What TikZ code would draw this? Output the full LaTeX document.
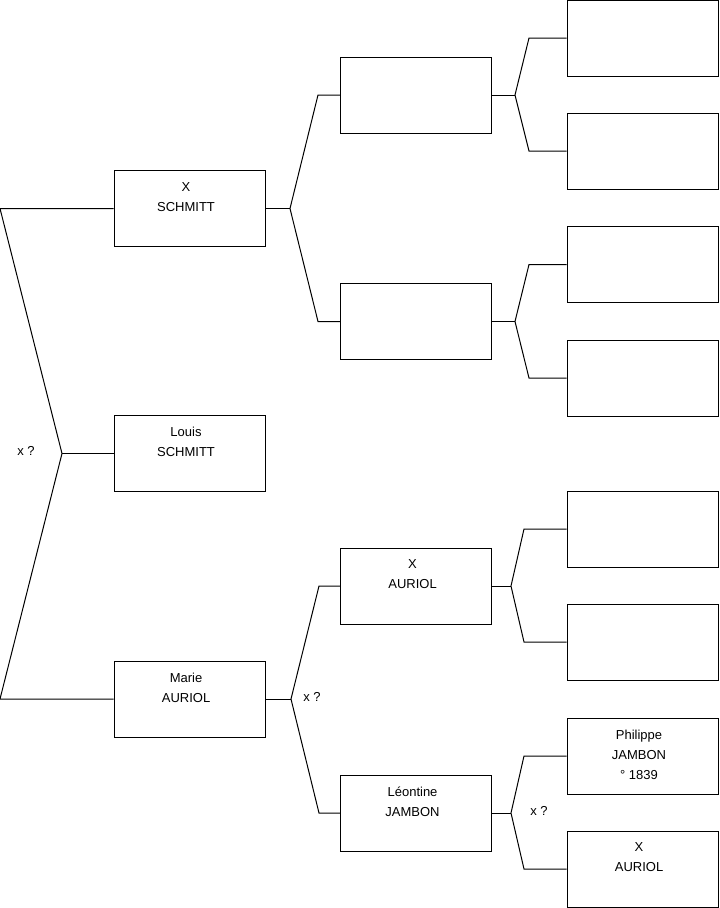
\documentclass[tikz,border=0pt]{standalone}
\usepackage{fontspec}
\setmainfont{Liberation Sans}
\begin{document}
\begin{tikzpicture}[x=0.75pt,y=-0.75pt,
    box/.style={draw, line width=0.75pt, minimum width=113.25pt, minimum height=57pt, inner sep=0pt},
    who/.style={anchor=north, xshift=-2.6pt, yshift=-9.2pt, align=center, inner sep=0pt, font=\fontsize{9.75}{15}\selectfont},
    link/.style={line width=0.75pt},
    guess/.style={inner sep=0pt, font=\fontsize{9.75}{11}\selectfont}]
      \useasboundingbox (0,0) rectangle (719,908);
      % generation 1
      \node[box, label={[who]north:{X\\SCHMITT}}] (xs) at (189.5,208.5) {};
      \node[box, label={[who]north:{Louis\\SCHMITT}}] (ls) at (189.5,453.5) {};
      \node[box, label={[who]north:{Marie\\AURIOL}}] (ma) at (189.5,699) {};
      % generation 2
      \node[box] (p1) at (416,95) {};
      \node[box] (p2) at (416,321.5) {};
      \node[box, label={[who]north:{X\\AURIOL}}] (p3) at (416,586) {};
      \node[box, label={[who]north:{Léontine\\JAMBON}}] (p4) at (416,813) {};
      % generation 3
      \node[box] (r1) at (642.5,38) {};
      \node[box] (r2) at (642.5,151) {};
      \node[box] (r3) at (642.5,264.5) {};
      \node[box] (r4) at (642.5,378) {};
      \node[box] (r5) at (642.5,529) {};
      \node[box] (r6) at (642.5,642) {};
      \node[box, label={[who]north:{Philippe\\JAMBON\\° 1839}}] (r7) at (642.5,756) {};
      \node[box, label={[who]north:{X\\AURIOL}}] (r8) at (642.5,869) {};
      % brackets
      \coordinate (t0) at (0,208.5);
      \coordinate (j0) at (62,453.5);
      \coordinate (b0) at (0,699);
      \draw[link] (xs.west) -- (t0) -- (j0) -- (b0) -- (ma.west);
      \draw[link] (j0) -- (ls.west);
      \node[guess] (g0) at (26,451) {x ?};

      \coordinate (jx) at (290,208.5);
      \draw[link] (p1.west) -- (318,95) -- (jx) -- (318,321.5) -- (p2.west);
      \draw[link] (xs.east) -- (jx);

      \coordinate (jm) at (291,699);
      \draw[link] (p3.west) -- (319,586) -- (jm) -- (319,813) -- (p4.west);
      \draw[link] (ma.east) -- (jm);
      \node[guess] (g1) at (312,697) {x ?};

      \coordinate (j1) at (515,95);
      \draw[link] (r1.west) -- (529,38) -- (j1) -- (529,151) -- (r2.west);
      \draw[link] (p1.east) -- (j1);

      \coordinate (j2) at (515,321.5);
      \draw[link] (r3.west) -- (529,264.5) -- (j2) -- (529,378) -- (r4.west);
      \draw[link] (p2.east) -- (j2);

      \coordinate (j3) at (511,586);
      \draw[link] (r5.west) -- (524,529) -- (j3) -- (524,642) -- (r6.west);
      \draw[link] (p3.east) -- (j3);

      \coordinate (j4) at (511,813);
      \draw[link] (r7.west) -- (524,756) -- (j4) -- (524,869) -- (r8.west);
      \draw[link] (p4.east) -- (j4);
      \node[guess] (g2) at (539,811) {x ?};
    \end{tikzpicture}
\end{document}
